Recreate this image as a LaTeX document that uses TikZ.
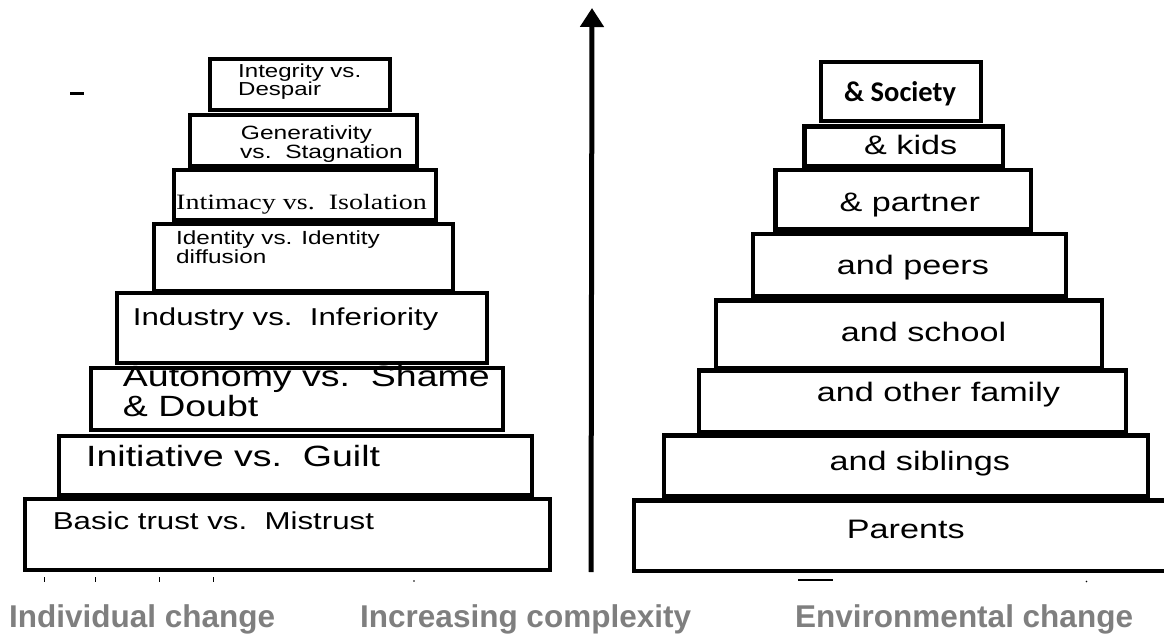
\documentclass[tikz,border=0pt]{standalone}
\usepackage{fontspec}
\usetikzlibrary{arrows.meta,fit}
\newfontfamily\stagefont[FakeStretch=1.28]{Liberation Sans}
\newfontfamily\stageserif[FakeStretch=1.28]{Liberation Serif}
\newfontfamily\societyfont{Carlito}
\newfontfamily\captionfont{Liberation Sans}
\definecolor{captiongray}{RGB}{127,127,127}

\begin{document}
\begin{tikzpicture}
  [x=1pt, y=-1pt,
    every stage/.style={
      draw,
      line width=4.5pt,
      inner sep=0pt,
      outer sep=0pt
    },
    stage text/.style={
      anchor=base west,
      inner sep=0pt
    },
    caption/.style={
      anchor=base west,
      inner sep=0pt,
      text=captiongray,
      font=\captionfont\bfseries\fontsize{31.5}{31.5}\selectfont
    },
  ]
\useasboundingbox (0,0) rectangle (1164,636);

% Draw individual stages (left pyramid, bottom to top)
\foreach \l/\t/\r/\b [count=\i] in
  {25/499/550/570, 59/436/532/495, 91/368/503/430, 117/293/487/363,
   154/224/453/291, 174/170/436/220, 190/115/417/166, 210/59/390/110}
  \node [every stage, fit={(\l,\t) (\r,\b)}] (ind-\i) {};

% Label individual stages
\foreach \x/\y/\s/\t [count=\i] in
  {52.7/529.3/24.4/{Basic trust vs.\ \ Mistrust},
   86/466.7/29.3/{Initiative vs.\ \ Guilt},
   122.7/386.7/29.3/{Autonomy vs.\ \ Shame},
   122.7/416.7/29.3/{\& Doubt},
   132.7/325/24.4/{Industry vs.\ \ Inferiority},
   176/244.5/19/{Identity vs. Identity},
   176/264/19/{diffusion},
   240.7/140/19.2/{Generativity},
   240/158.5/19.2/{vs.\ \ Stagnation},
   238/77.5/18.8/{Integrity vs.},
   238/96/18.8/{Despair}}
  \node [stage text, font=\stagefont\fontsize{\s}{\s}\selectfont] (ind-text-\i) at (\x,\y) {\t};
\node [stage text, font=\stageserif\fontsize{21.9}{21.9}\selectfont] (ind-text-serif) at (176,210) {Intimacy vs.\ \ Isolation};

% Draw environmental stages (right pyramid, bottom to top)
\foreach \l/\t/\r/\b [count=\i] in
  {634/500.5/1172/571, 664/435.5/1148/496, 699/370.5/1126/432, 716/300.5/1102/368,
   753/234/1066/296, 775.5/170/1031/229.5, 804.5/126.5/1003/166, 821/62/981/121}
  \node [every stage, fit={(\l,\t) (\r,\b)}] (env-\i) {};

% Label environmental stages
\foreach \x/\y/\t [count=\i] in
  {846.7/538.3/Parents, 829.3/470/and siblings, 816.7/401/and other family,
   840.7/341/and school, 836.7/275/and peers, 839.3/211.7/{\& partner},
   864/154.3/{\& kids}}
  \node [stage text, font=\stagefont\fontsize{26.7}{26.7}\selectfont] (env-text-\i) at (\x,\y) {\t};
\node [stage text, font=\societyfont\bfseries\fontsize{28.5}{28.5}\selectfont] (env-text-8) at (844,101.7) {\& Society};

% Complexity arrow
\coordinate (arrow-foot) at (591,572);
\coordinate (arrow-tip) at (592,8);
\draw [-{Triangle[width=23pt,length=19pt]}, line width=5pt] (arrow-foot) -- (arrow-tip);

% Stray marks
\draw [line width=3pt] (70,94) -- (84,94);
\foreach \x in {44,95,159,213}
  \draw [line width=1pt] (\x,577) -- (\x,582);
\fill (414,581) circle (0.8);
\draw [line width=1.5pt] (798,580) -- (833,580);
\fill (1086.5,581.5) circle (0.8);

% Captions
\node [caption] (cap-ind) at (9,627.6) {Individual change};
\node [caption] (cap-cmp) at (360,627.6) {Increasing complexity};
\node [caption] (cap-env) at (795,627.6) {Environmental change};
\end{tikzpicture}
\end{document}
